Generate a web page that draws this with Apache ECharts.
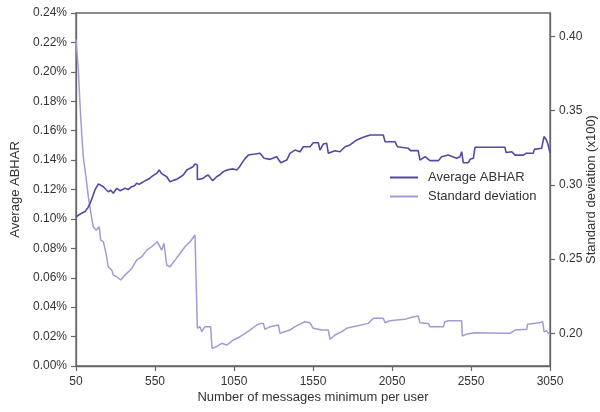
<!DOCTYPE html>
<html>
<head>
<meta charset="utf-8">
<script src="https://cdn.jsdelivr.net/npm/echarts@6/dist/echarts.min.js"></script>
<style>html,body{margin:0;padding:0;background:#fff;}#c{width:600px;height:412px;}</style>
</head>
<body>
<div id="c"></div>
<script>
var xTicks = [50, 550, 1050, 1550, 2050, 2550, 3050];
var rightTicks = [0.20, 0.25, 0.30, 0.35, 0.40];

var avgX = [50,80,107,125,139,155,170,191,205,223,240,254,270,286,308,328,345,360,380,403,420,434,450,466,480,497,515,529,545,561,577,590,599,624,645,665,687,710,729,751,772,790,803,818,818,840,856,870,887,900,915,940,960,982,1000,1025,1045,1067,1085,1099,1120,1141,1160,1183,1215,1240,1278,1320,1346,1384,1404,1436,1468,1489,1531,1552,1584,1594,1615,1637,1647,1689,1721,1753,1784,1827,1868,1911,1995,2006,2069,2084,2153,2168,2216,2227,2259,2290,2343,2364,2406,2459,2480,2491,2501,2533,2544,2565,2575,2765,2772,2808,2829,2881,2898,2944,2951,2997,3012,3025,3035,3046,3050];
var avgY = [0.1015,0.1035,0.1050,0.1075,0.1106,0.1150,0.1197,0.1237,0.1230,0.1219,0.1200,0.1185,0.1195,0.1174,0.1208,0.1192,0.1200,0.1208,0.1200,0.1219,0.1225,0.1242,0.1235,0.1246,0.1255,0.1265,0.1275,0.1287,0.1300,0.1310,0.1333,0.1310,0.1299,0.1287,0.1253,0.1262,0.1269,0.1285,0.1299,0.1333,0.1344,0.1355,0.1373,0.1367,0.1268,0.1272,0.1276,0.1290,0.1299,0.1280,0.1260,0.1287,0.1300,0.1321,0.1330,0.1337,0.1340,0.1333,0.1355,0.1378,0.1410,0.1434,0.1438,0.1441,0.1446,0.1412,0.1405,0.1423,0.1382,0.1400,0.1446,0.1468,0.1457,0.1491,0.1491,0.1518,0.1518,0.1468,0.1509,0.1514,0.1446,0.1464,0.1457,0.1491,0.1503,0.1537,0.1555,0.1571,0.1571,0.1525,0.1525,0.1491,0.1480,0.1464,0.1464,0.1400,0.1423,0.1396,0.1396,0.1423,0.1434,0.1412,0.1423,0.1457,0.1382,0.1382,0.1405,0.1412,0.1487,0.1487,0.1451,0.1457,0.1434,0.1434,0.1446,0.1446,0.1473,0.1480,0.1560,0.1541,0.1514,0.1468,0.1450];

var stdX = [50,65,75,86,96,113,128,143,159,177,197,206,223,240,254,276,286,308,333,360,403,434,466,497,529,565,577,592,607,624,645,677,708,740,772,803,814,818,835,846,866,902,911,940,972,1004,1046,1088,1120,1151,1194,1219,1236,1246,1278,1331,1341,1404,1436,1499,1531,1552,1605,1647,1658,1689,1732,1763,1805,1900,1932,1995,2006,2037,2080,2132,2175,2216,2227,2280,2290,2375,2385,2406,2491,2495,2523,2575,2765,2776,2797,2829,2903,2907,2983,3004,3012,3029,3040,3050];
var stdY = [0.3980,0.3772,0.3548,0.3346,0.3189,0.3054,0.2919,0.2818,0.2717,0.2695,0.2717,0.2628,0.2617,0.2538,0.2448,0.2426,0.2392,0.2381,0.2359,0.2392,0.2437,0.2493,0.2516,0.2560,0.2583,0.2617,0.2628,0.2560,0.2606,0.2460,0.2448,0.2493,0.2538,0.2583,0.2617,0.2662,0.2673,0.2034,0.2045,0.2011,0.2045,0.2045,0.1900,0.1910,0.1933,0.1921,0.1955,0.1977,0.2000,0.2022,0.2056,0.2067,0.2067,0.2027,0.2045,0.2056,0.2000,0.2022,0.2045,0.2078,0.2071,0.2034,0.2022,0.2022,0.1960,0.1989,0.2011,0.2034,0.2045,0.2067,0.2101,0.2101,0.2071,0.2085,0.2090,0.2094,0.2108,0.2116,0.2071,0.2067,0.2044,0.2044,0.2078,0.2085,0.2085,0.1982,0.1995,0.2004,0.2000,0.1989,0.2000,0.2022,0.2027,0.2061,0.2071,0.2078,0.2011,0.2018,0.2000,0.1995];

function zip(a, b) { return a.map(function (v, i) { return [v, b[i]]; }); }

var FONT = '"Liberation Sans", Arial, sans-serif';
var TXT = '#333333';
var AX = '#666666';
var C1 = '#5a47a3';
var C2 = '#a09cd3';

var chart = echarts.init(document.getElementById('c'), null, { renderer: 'canvas' });
chart.setOption({
  animation: false,
  backgroundColor: '#ffffff',
  textStyle: { fontFamily: FONT },
  grid: { left: 76, right: 50, top: 13, bottom: 46, outerBoundsMode: 'none', containLabel: false, show: true, borderColor: AX, borderWidth: 1.3, backgroundColor: 'transparent' },
  legend: {
    orient: 'vertical', left: 389, top: 171, padding: 0,
    itemWidth: 28, itemHeight: 14, itemGap: 6,
    itemStyle: { opacity: 0 },
    textStyle: { fontFamily: FONT, fontSize: 13, color: TXT, padding: [0, 0, 0, 5] },
    data: [{ name: 'Average ABHAR' }, { name: 'Standard deviation' }]
  },
  xAxis: {
    type: 'value', min: 50, max: 3050,
    name: 'Number of messages minimum per user', nameLocation: 'middle', nameGap: 25, nameMoveOverlap: false,
    nameTextStyle: { fontFamily: FONT, fontSize: 13, color: TXT },
    axisLine: { show: true, lineStyle: { color: AX, width: 1.3 } },
    axisTick: { show: true, length: 5, lineStyle: { color: AX, width: 1.2 }, customValues: xTicks },
    axisLabel: { fontFamily: FONT, fontSize: 12, color: TXT, margin: 10, customValues: xTicks, formatter: function (v) { return String(v); } },
    splitLine: { show: false }
  },
  yAxis: [{
    type: 'value', min: 0, max: 0.24, interval: 0.02, position: 'left',
    name: 'Average ABHAR', nameLocation: 'middle', nameGap: 54, nameRotate: 90, nameMoveOverlap: false,
    nameTextStyle: { fontFamily: FONT, fontSize: 13, color: TXT },
    axisLine: { show: true, lineStyle: { color: AX, width: 1.3 } },
    axisTick: { show: true, length: 5, lineStyle: { color: AX, width: 1.2 } },
    axisLabel: { fontFamily: FONT, fontSize: 12, color: TXT, margin: 9, formatter: function (v) { return v.toFixed(2) + '%'; } },
    splitLine: { show: false }
  }, {
    type: 'value', min: 0.178, max: 0.4157, position: 'right',
    name: 'Standard deviation (x100)', nameLocation: 'middle', nameGap: 35, nameRotate: 90, nameMoveOverlap: false,
    nameTextStyle: { fontFamily: FONT, fontSize: 13, color: TXT },
    axisLine: { show: true, lineStyle: { color: AX, width: 1.3 } },
    axisTick: { show: true, length: 5, lineStyle: { color: AX, width: 1.2 }, customValues: rightTicks },
    axisLabel: { fontFamily: FONT, fontSize: 12, color: TXT, margin: 9, customValues: rightTicks, formatter: function (v) { return v.toFixed(2); } },
    splitLine: { show: false }
  }],
  series: [{
    name: 'Average ABHAR', type: 'line', yAxisIndex: 0, symbol: 'none',
    data: zip(avgX, avgY),
    lineStyle: { color: C1, width: 1.6 }, itemStyle: { color: C1 }, z: 3
  }, {
    name: 'Standard deviation', type: 'line', yAxisIndex: 1, symbol: 'none',
    data: zip(stdX, stdY),
    lineStyle: { color: C2, width: 1.5 }, itemStyle: { color: C2 }, z: 2
  }]
});
</script>
</body>
</html>
